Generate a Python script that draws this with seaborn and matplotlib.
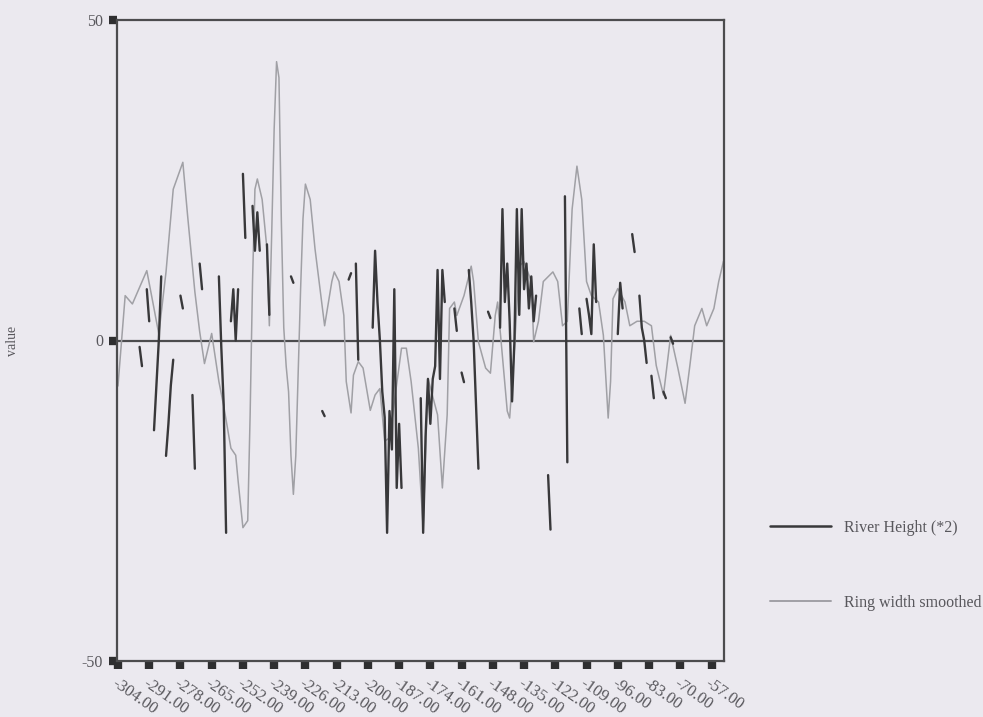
import numpy as np
import pandas as pd
import matplotlib
matplotlib.use("Agg")
import matplotlib.pyplot as plt
from matplotlib.lines import Line2D
import seaborn as sns

# ---------------- data ----------------
ring_year = [-304, -301, -298, -292, -289, -287, -284, -281, -277, -275, -272, -270,
             -268, -265, -262, -260, -257, -255, -254, -252, -250, -249, -248, -247,
             -246, -244, -242, -241, -240, -239, -238, -237, -236, -235, -234, -233,
             -232, -231, -230, -229, -228, -227, -226, -224, -222, -218, -215, -214,
             -212, -210, -209, -207, -206, -204, -202, -199, -197, -195, -193, -191,
             -186, -184, -182, -179, -177, -175, -171, -169, -167, -166, -164, -163,
             -160, -157, -156, -154, -151, -149, -147, -146, -142, -141, -139, -137,
             -135, -132, -131, -129, -127, -123, -121, -119, -117, -115, -113, -111,
             -109, -107, -104, -102, -100, -99, -98, -96, -93, -91, -88, -85, -82,
             -80, -77, -74, -71, -68, -66, -64, -61, -59, -56, -54, -52]
ring_width = [-7.1, 7.0, 5.7, 10.9, 5.0, 1.0, 10.7, 23.6, 27.8, 19.4, 7.6, 1.4,
              -3.6, 1.1, -6.4, -10.2, -16.8, -17.9, -21.9, -29.2, -28.1, -11.6, 9.2, 23.6,
              25.2, 22.0, 14.3, 2.3, 17.0, 33.0, 43.5, 41.0, 18.5, 2.0, -4.0, -8.0,
              -18.0, -24.0, -18.0, -5.0, 8.0, 19.0, 24.4, 22.0, 14.3, 2.3, 9.2, 10.7,
              9.2, 3.9, -6.4, -11.3, -5.4, -3.3, -4.3, -10.9, -8.5, -7.5, -15.7, -15.2,
              -1.2, -1.2, -6.4, -16.8, -29.2, -5.9, -11.6, -23.0, -11.6, 5.0, 6.0, 3.9,
              7.0, 11.6, 9.2, -0.2, -4.3, -5.1, 3.9, 6.0, -11.0, -12.1, -1.2, 11.6,
              12.3, 9.2, -0.2, 3.0, 9.2, 10.7, 9.2, 2.3, 3.0, 20.5, 27.2, 22.0,
              9.2, 7.0, 6.0, 0.8, -12.1, -6.4, 6.5, 8.1, 6.0, 2.3, 3.0, 3.0, 2.3,
              -3.9, -8.5, 0.8, -4.3, -9.8, -3.9, 2.3, 5.0, 2.3, 5.0, 9.2, 12.4]

nan = np.nan
river_year = [-295, -294, -293,
              -292, -291, -290,
              -289, -288, -287, -286, -285,
              -284, -283, -282, -281, -280,
              -278, -277, -276,
              -273, -272, -271,
              -270, -269, -268,
              -262, -261, -260, -259, -258,
              -257, -256, -255, -254, -253,
              -252, -251, -250,
              -248, -247, -246, -245, -244,
              -242, -241, -240,
              -232, -231, -230,
              -219, -218, -217,
              -208, -207, -206,
              -205, -204, -203,
              -198, -197, -196, -195, -194, -193, -192, -191, -190, -189, -188, -187, -186, -185,
              -178, -177, -176, -175, -174, -173, -172, -171, -170, -169, -168, -167,
              -164, -163, -162,
              -161, -160, -159,
              -158, -157, -156, -155, -154, -153,
              -150, -149, -148,
              -145, -144, -143, -142, -141, -140, -139, -138, -137, -136, -135, -134,
              -133, -132, -131, -130, -129,
              -125, -124, -123,
              -118, -117, -116,
              -112, -111, -110,
              -109, -108, -107, -106, -105, -104,
              -96, -95, -94, -93,
              -90, -89, -88,
              -87, -86, -85, -84, -83,
              -82, -81, -80,
              -77, -76, -75,
              -74, -73]
river_height = [-1.0, -4.0, nan,
                8.0, 3.0, nan,
                -14.0, -7.0, 0.0, 10.0, nan,
                -18.0, -13.0, -7.0, -3.0, nan,
                7.0, 5.0, nan,
                -8.5, -20.0, nan,
                12.0, 8.0, nan,
                10.0, -1.0, -10.0, -30.0, nan,
                3.0, 8.0, 0.0, 8.0, nan,
                26.0, 16.0, nan,
                21.0, 14.0, 20.0, 14.0, nan,
                15.0, 4.0, nan,
                10.0, 9.0, nan,
                -11.0, -11.8, nan,
                9.5, 10.5, nan,
                12.0, -3.0, nan,
                2.0, 14.0, 6.0, 0.0, -8.0, -12.0, -30.0, -11.0, -17.0, 8.0, -23.0, -13.0, -23.0, nan,
                -9.0, -30.0, -15.0, -6.0, -13.0, -6.0, -4.0, 11.0, -6.0, 11.0, 6.0, nan,
                5.0, 1.5, nan,
                -5.0, -6.5, nan,
                11.0, 6.0, 0.0, -10.0, -20.0, nan,
                4.5, 3.5, nan,
                2.0, 20.5, 6.0, 12.0, 3.0, -9.5, 0.0, 20.5, 4.0, 20.5, 8.0, 12.0,
                5.0, 10.0, 3.0, 7.0, nan,
                -21.0, -29.5, nan,
                22.5, -19.0, nan,
                5.0, 1.0, nan,
                6.5, 4.0, 1.0, 15.0, 6.0, nan,
                1.0, 9.0, 5.0, nan,
                16.6, 13.8, nan,
                7.0, 2.0, 0.0, -3.5, nan,
                -5.5, -9.0, nan,
                -8.0, -9.0, nan,
                0.5, -0.5]

tick_years = list(range(-304, -56, 13))
tick_labels = [f"{t:.2f}" for t in tick_years]
y_ticks = [-50, 0, 50]
y_labels = ["-50", "0", "50"]
legend_labels = ["River Height (*2)", "Ring width smoothed"]

# ---------------- style ----------------
BG = "#EBE9EF"
DARK = "#38383A"
LIGHT = "#A0A0A5"
AXC = "#4C4C4E"
TXT = "#58575C"

sns.set_theme(style="white")
plt.rcParams["font.family"] = ["Liberation Serif", "DejaVu Serif"]

fig = plt.figure(figsize=(9.83, 7.17), dpi=100, facecolor=BG)
ax = fig.add_axes([117 / 983, 1 - 661 / 717, (724 - 117) / 983, (661 - 20) / 717])
ax.set_facecolor(BG)

ring_df = pd.DataFrame({"year": ring_year, "value": ring_width})
river_df = pd.DataFrame({"year": river_year, "value": river_height})
river_df["seg"] = river_df["value"].isna().cumsum()
river_df = river_df.dropna()

sns.lineplot(data=ring_df, x="year", y="value", estimator=None, sort=False,
             color=LIGHT, lw=1.1, ax=ax, legend=False)
sns.lineplot(data=river_df, x="year", y="value", units="seg", estimator=None,
             sort=False, color=DARK, lw=1.7, ax=ax, legend=False)

ax.axhline(0, color=AXC, lw=1.6, zorder=1)

ax.set_xlim(-304.4, -51.8)
ax.set_ylim(-50, 50)

for s in ax.spines.values():
    s.set_color(AXC)
    s.set_linewidth(1.6)

ax.set_xticks(tick_years)
ax.set_xticklabels(tick_labels, rotation=-35, ha="left", va="top",
                   rotation_mode="anchor", fontsize=12, color=TXT)
ax.set_yticks(y_ticks)
ax.set_yticklabels(y_labels, fontsize=11.5, color=TXT)
ax.tick_params(axis="both", which="major", direction="out", length=6, width=6,
               color="#2E2E30", bottom=True, left=True)
ax.tick_params(axis="x", pad=4)
ax.tick_params(axis="y", pad=4)

ax.set_xlabel("")
ax.set_ylabel("value", fontsize=10, color=TXT, labelpad=45)

handles = [Line2D([], [], color=DARK, lw=1.8), Line2D([], [], color=LIGHT, lw=1.4)]
ax.legend(handles, legend_labels, loc="center left",
          bbox_to_anchor=(770 / 983, 1 - 565.5 / 717), bbox_transform=fig.transFigure,
          frameon=False, fontsize=11.5, handlelength=3.8, handletextpad=0.85,
          labelspacing=3.7, borderpad=0, borderaxespad=0, labelcolor=TXT)

fig.savefig("out.png", dpi=100, facecolor=BG)
